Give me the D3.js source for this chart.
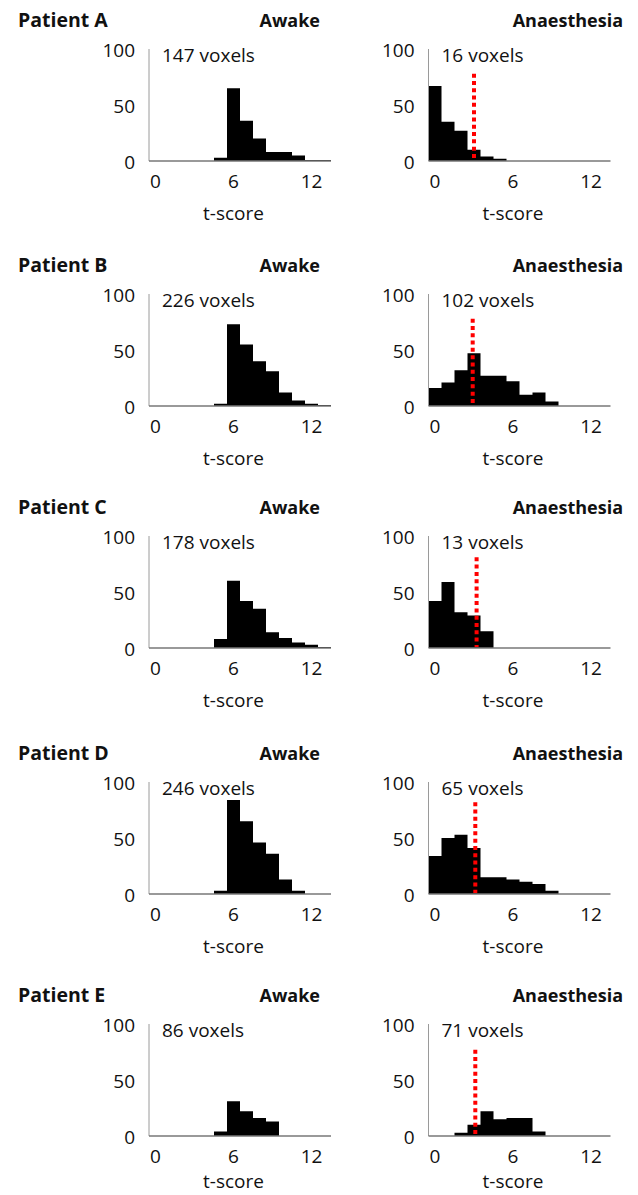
<!DOCTYPE html>
<html><head><meta charset="utf-8">
<script src="https://cdn.jsdelivr.net/npm/d3@7"></script>
<style>
html,body{margin:0;padding:0;background:#fff;}
svg{display:block;font-family:"Open Sans",sans-serif;}
</style></head>
<body>
<script>
// ---- data ----
const patients = ["Patient A","Patient B","Patient C","Patient D","Patient E"];
const conditions = ["Awake","Anaesthesia"];
const bins = [0,1,2,3,4,5,6,7,8,9,10,11,12,13];
const xTickLabels = [0,6,12];
const yTickLabels = [0,50,100];
const voxelsAwake = [147,226,178,246,86];
const voxelsAnaes = [16,102,13,65,71];
const awakeA = [0,0,0,0,0,3,65,36,20,8,8,5,1,1];
const awakeB = [0,0,0,0,0,2,73,55,40,31,12,5,2,1];
const awakeC = [0,0,0,0,0,8,60,42,35,14,9,5,3,1];
const awakeD = [0,0,0,0,0,3,84,65,46,36,13,3,0,0];
const awakeE = [0,0,0,0,0,4,31,22,16,13,0,0,0,0];
const anaesA = [67,35,27,10,4,2,0,0,0,0,0,0,0,0];
const anaesB = [16,21,32,47,27,27,22,10,12,4,0,0,0,0];
const anaesC = [42,59,32,29,15,0,0,0,0,0,0,0,0,0];
const anaesD = [34,50,53,41,15,15,13,11,9,3,0,0,0,0];
const anaesE = [0,0,3,10,22,15,16,16,4,0,0,0,0,0];
const thresholds = [3.0,2.9,3.2,3.1,3.1];
const thresholdTop = [78,78,81,82,77];

const awake = [awakeA,awakeB,awakeC,awakeD,awakeE];
const anaes = [anaesA,anaesB,anaesC,anaesD,anaesE];

// ---- layout ----
const W = 638, H = 1195;
const rowBase = [161, 406, 648, 894, 1136];
const colAxisX = [149, 428.5];
const colTitleRight = [320, 623];
const plotW = 182, plotH = 112;

const svg = d3.select("body").append("svg").attr("width",W).attr("height",H);

patients.forEach((p, r) => {
  const base = rowBase[r];
  svg.append("text").attr("x",18).attr("y",base-134)
    .attr("font-size",19.5).attr("font-weight","bold").attr("fill","#111").text(p);

  [awake[r], anaes[r]].forEach((vals, c) => {
    const ax = colAxisX[c];
    const g = svg.append("g");
    const x = d3.scaleBand().domain(bins).range([ax, ax+plotW]).paddingInner(0).paddingOuter(0);
    const xl = d3.scaleLinear().domain([-0.5, 13.5]).range([ax, ax+plotW]);
    const y = d3.scaleLinear().domain([0,100]).range([base, base-plotH]);

    g.append("text").attr("x",colTitleRight[c]).attr("y",base-134).attr("text-anchor","end")
      .attr("font-size",18).attr("font-weight","bold").attr("fill","#111").text(conditions[c]);

    // histogram as a single step area (no seams between bars)
    const pts = vals.map((v,i)=>({xv:x(bins[i]), v}));
    pts.push({xv:x(bins[bins.length-1])+x.bandwidth(), v:vals[vals.length-1]});
    const area = d3.area().curve(d3.curveStepAfter)
      .x(d=>d.xv).y0(base).y1(d=>y(d.v));
    g.append("path").attr("d",area(pts)).attr("fill","#000");

    // axes lines
    g.append("line").attr("x1",ax).attr("x2",ax).attr("y1",y(100)).attr("y2",base)
      .attr("stroke","#9a9a9a").attr("stroke-width",1);
    g.append("line").attr("x1",ax).attr("x2",ax+plotW).attr("y1",base).attr("y2",base)
      .attr("stroke","#777").attr("stroke-width",1.3);

    // y ticks
    g.selectAll("text.yt").data(yTickLabels).enter().append("text").attr("class","yt")
      .attr("x",ax-14).attr("y",d=>y(d)).attr("dy","0.42em").attr("text-anchor","end")
      .attr("font-size",19).attr("fill","#111").text(d=>d);
    // x ticks
    g.selectAll("text.xt").data(xTickLabels).enter().append("text").attr("class","xt")
      .attr("x",d=>x(d)+x.bandwidth()/2).attr("y",base+27).attr("text-anchor","middle")
      .attr("font-size",19).attr("fill","#111").text(d=>d);
    g.append("text").attr("x",x(6)+x.bandwidth()/2).attr("y",Math.min(base+59, H-7)).attr("text-anchor","middle")
      .attr("font-size",19).attr("fill","#111").text("t-score");

    // voxel label
    g.append("text").attr("x",ax+13).attr("y",y(100)+13)
      .attr("font-size",19).attr("fill","#111")
      .text((c===0?voxelsAwake[r]:voxelsAnaes[r])+" voxels");

    // threshold line
    if (c===1) {
      const tx = xl(thresholds[r]);
      g.append("line").attr("x1",tx).attr("x2",tx).attr("y1",y(thresholdTop[r])).attr("y2",base-1)
        .attr("stroke","#ff0000").attr("stroke-width",4).attr("stroke-dasharray","4,3.3");
    }
  });
});
</script>
</body></html>
